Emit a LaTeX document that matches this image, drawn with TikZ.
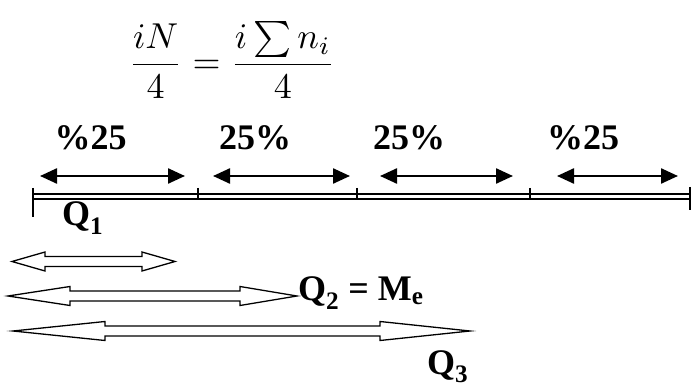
\documentclass[tikz,border=0pt]{standalone}
\usepackage{fontspec}
\setmainfont{Liberation Serif}
\usepackage{graphicx}
\usepackage{tikz}
\usetikzlibrary{arrows.meta,positioning}

\tikzset{
  pct/.style={font=\fontsize{36}{40}\selectfont\bfseries, anchor=base, inner sep=0pt},
  qlabel/.style={font=\fontsize{36}{40}\selectfont\bfseries, anchor=base west, inner sep=0pt},
  segarrow/.style={line width=2.4pt, {Triangle[length=17pt,width=15pt]}-{Triangle[length=17pt,width=15pt]}},
  hollow/.style={draw=black, fill=white, line width=1.3pt, line join=miter},
  tick/.style={line width=1.6pt}
}

\begin{document}
\begin{tikzpicture}[x=1pt, y=-1pt]
  \useasboundingbox (0,0) rectangle (691,387);

  % Formula
  \node[inner sep=0pt] (eq) at (232,60)
    {\scalebox{3.6}{$\displaystyle\frac{iN}{4}=\frac{i\sum n_i}{4}$}};

  % Percent labels
  \node[pct] (p1) at (90.5,150) {\%25};
  \node[pct] (p2) at (255,150) {25\%};
  \node[pct] (p3) at (409,150) {25\%};
  \node[pct] (p4) at (583,150) {\%25};

  % Segment arrows
  \foreach \a/\b [count=\k] in {40/185, 213/350, 380/513, 557/678} {
    \coordinate (l\k) at (\a,176);
    \coordinate (r\k) at (\b,176);
    \draw[segarrow] (l\k) -- (r\k);
  }

  % Axis
  \coordinate (ax0) at (33,196.5);
  \coordinate (ax1) at (692,196.5);
  \draw[double, double distance=2.6pt, line width=1.8pt] (ax0) -- (ax1);
  \draw[tick] (33,188) -- (33,217);
  \foreach \x in {198,357,530}
    \draw[tick] (\x,188) -- (\x,200);
  \draw[tick] (690,187) -- (690,210);

  % Quartile labels
  \node[qlabel] (q1) at (62,226) {Q\textsubscript{1}};
  \node[qlabel] (q2) at (298,301) {Q\textsubscript{2} = M\textsubscript{e}};
  \node[qlabel] (q3) at (427,374) {Q\textsubscript{3}};

  % Hollow arrows
  \draw[hollow] (12,261.5) -- (45,252) -- (45,256.5) -- (142,256.5) -- (142,252)
    -- (175,261.5) -- (142,271) -- (142,266.5) -- (45,266.5) -- (45,271) -- cycle;
  \draw[hollow] (8,296) -- (70,286.5) -- (70,291) -- (240,291) -- (240,286.5)
    -- (297,296) -- (240,305.5) -- (240,301) -- (70,301) -- (70,305.5) -- cycle;
  \draw[hollow] (13,331) -- (105,321.5) -- (105,326) -- (380,326) -- (380,321.5)
    -- (470,331) -- (380,340.5) -- (380,336) -- (105,336) -- (105,340.5) -- cycle;
\end{tikzpicture}
\end{document}
